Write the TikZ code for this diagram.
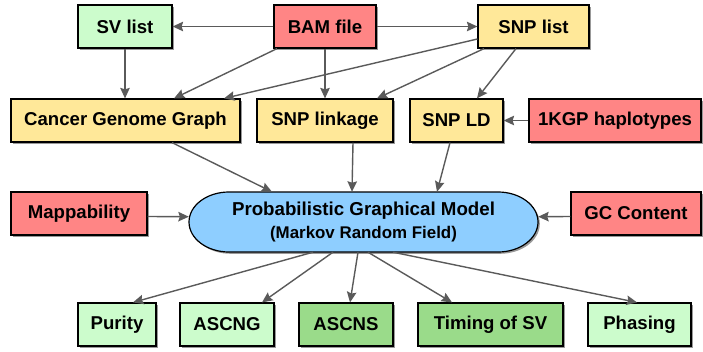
\documentclass[tikz,border=0pt]{standalone}
\usepackage{fontspec}
\setmainfont{Liberation Sans}
\usetikzlibrary{arrows.meta,shadows}
\definecolor{cred}{HTML}{FF8585}
\definecolor{cgreenl}{HTML}{CCFCCC}
\definecolor{cgreend}{HTML}{9ADB8A}
\definecolor{cyellow}{HTML}{FFE899}
\definecolor{cblue}{HTML}{8ECEFF}
\definecolor{cline}{HTML}{5A5A5A}
\tikzset{
  boxshadow/.style={drop shadow={shadow xshift=1.8pt,shadow yshift=-1.8pt,opacity=0.4,fill=black}},
  box/.style={draw=black,line width=1.2pt,minimum height=43pt,inner sep=0pt,boxshadow,
    font=\bfseries\fontsize{18.6}{20}\selectfont},
  redbox/.style={box,fill=cred},
  lgbox/.style={box,fill=cgreenl},
  dgbox/.style={box,fill=cgreend},
  ybox/.style={box,fill=cyellow},
  conn/.style={draw=cline,line width=1.4pt,-{Stealth[length=10.5pt,width=9.5pt,inset=1.5pt]}},
}
\begin{document}
\begin{tikzpicture}[x=1pt,y=-1pt]
\useasboundingbox (0,0) rectangle (703,351);
% top row
\node[lgbox,minimum width=94pt] (sv) at (125,26.5) {SV list};
\node[redbox,minimum width=102pt] (bam) at (325,26.5) {BAM file};
\node[ybox,minimum width=111pt] (snp) at (533.5,26.5) {SNP list};
% second row
\node[ybox,minimum width=229pt] (cgg) at (125.5,120.5) {Cancer Genome Graph};
\node[ybox,minimum width=136pt] (link) at (325,120.5) {SNP linkage};
\node[ybox,minimum width=93pt] (ld) at (456.5,120.5) {SNP LD};
\node[redbox,minimum width=172pt] (kgp) at (615,120.5) {1KGP haplotypes};
% third row
\node[redbox,minimum width=136pt] (map) at (79,213.5) {Mappability};
\node[redbox,minimum width=130pt] (gc) at (636,213.5) {GC Content};
\coordinate (pc) at (363.5,222);
\draw[fill=cblue,line width=1.2pt,boxshadow]
  ([shift={(-134.5pt,30pt)}]pc) -- ([shift={(134.5pt,30pt)}]pc)
  arc[start angle=90,end angle=-90,x radius=40pt,y radius=30pt]
  -- ([shift={(-134.5pt,-30pt)}]pc)
  arc[start angle=270,end angle=90,x radius=40pt,y radius=30pt] -- cycle;
\node[minimum width=349pt,minimum height=60pt,inner sep=0pt,align=center,
  font=\bfseries\fontsize{18.7}{22.5}\selectfont] (pgm) at (pc)
  {Probabilistic Graphical Model\\{\fontsize{16.9}{18}\selectfont (Markov Random Field)}};
% bottom row
\node[lgbox,minimum width=78pt] (purity) at (117,324.5) {Purity};
\node[lgbox,minimum width=94pt] (ascng) at (227,324.5) {ASCNG};
\node[dgbox,minimum width=94pt] (ascns) at (346,324.5) {ASCNS};
\node[dgbox,minimum width=145pt] (timing) at (490.5,324.5) {Timing of SV};
\node[lgbox,minimum width=103pt] (phasing) at (639.5,324.5) {Phasing};
% connectors
\draw[conn] (bam.west) -- (sv.east);
\draw[conn] (bam.east) -- (snp.west);
\draw[conn] (sv.south) -- (sv.south |- cgg.north);
\draw[conn] ([xshift=-48pt]bam.south) -- ([xshift=48.5pt]cgg.north);
\draw[conn] ([yshift=-12.5pt]snp.west) -- ([xshift=98.5pt]cgg.north);
\draw[conn] (bam.south) -- (link.north);
\draw[conn] ([xshift=-49.5pt]snp.south) -- ([xshift=52pt]link.north);
\draw[conn] ([xshift=-17.5pt]snp.south) -- ([xshift=20.5pt]ld.north);
\draw[conn] (kgp.west) -- (ld.east);
\draw[conn] ([xshift=46.5pt]cgg.south) -- ([xshift=-91.5pt]pgm.north);
\draw[conn] ([xshift=28pt]link.south) -- ([xshift=-11.5pt]pgm.north);
\draw[conn] ([xshift=-6.5pt]ld.south) -- ([xshift=73.5pt]pgm.north);
\draw[conn] ([yshift=-3pt]map.east) -- ([yshift=5.3pt]pgm.west);
\draw[conn] ([yshift=-3pt]gc.west) -- ([yshift=5.3pt]pgm.east);
\draw[conn] ([xshift=-50.5pt]pgm.south) -- ([xshift=16pt]purity.north);
\draw[conn] ([xshift=-30.5pt]pgm.south) -- ([xshift=35pt]ascng.north);
\draw[conn] ([xshift=-5.5pt]pgm.south) -- ([xshift=4pt]ascns.north);
\draw[conn] ([xshift=4.5pt]pgm.south) -- ([xshift=-38.5pt]timing.north);
\draw[conn] ([xshift=29.5pt]pgm.south) -- ([xshift=-2.5pt]phasing.north);
\end{tikzpicture}
\end{document}
